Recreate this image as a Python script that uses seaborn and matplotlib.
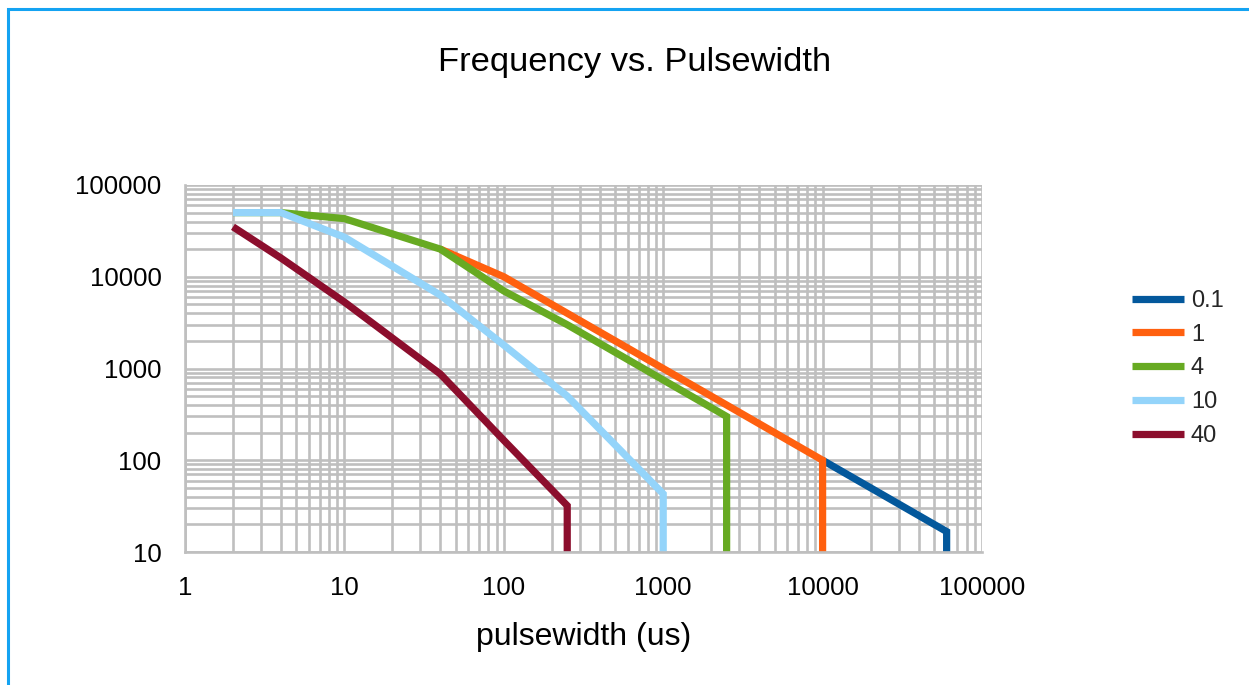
import matplotlib
matplotlib.use("Agg")
import matplotlib.pyplot as plt
import matplotlib.ticker as mticker
from matplotlib.patches import Rectangle
import seaborn as sns
import pandas as pd

sns.set_theme(style="white")
plt.rcParams['font.family'] = ['Liberation Sans', 'DejaVu Sans']

# series: pulsewidth (us) -> frequency
series_names = ['0.1', '1', '4', '10', '40']

pw_01 = [10000, 60000, 60000]
freq_01 = [100, 16.7, 10]

pw_1 = [40, 100, 250, 1000, 2500, 4000, 10000, 10000]
freq_1 = [20000, 10000, 4000, 1000, 400, 250, 100, 10]

pw_4 = [2, 4, 10, 40, 100, 250, 1000, 2500, 2500]
freq_4 = [50000, 50000, 43000, 20000, 7000, 3000, 750, 300, 10]

pw_10 = [2, 4, 10, 40, 100, 250, 1000, 1000]
freq_10 = [50000, 50000, 27000, 6300, 1800, 500, 43, 10]

pw_40 = [2, 4, 10, 40, 100, 250, 250]
freq_40 = [35000, 16000, 5300, 870, 165, 32, 10]

colors = ['#03589C', '#FF600F', '#67AA22', '#94D4FA', '#8C0E2D']

x_ticks = [1, 10, 100, 1000, 10000, 100000]
y_ticks = [10, 100, 1000, 10000, 100000]

pws = [pw_01, pw_1, pw_4, pw_10, pw_40]
freqs = [freq_01, freq_1, freq_4, freq_10, freq_40]
rows = []
for name, xs, ys in zip(series_names, pws, freqs):
    for i, (x, y) in enumerate(zip(xs, ys)):
        rows.append({'series': name, 'order': i, 'pulsewidth': x, 'frequency': y})
df = pd.DataFrame(rows)

fig = plt.figure(figsize=(12.49, 6.85), dpi=100)
ax = fig.add_axes([185 / 1249, 1 - 552 / 685, 797 / 1249, 367 / 685])

sns.lineplot(data=df, x='pulsewidth', y='frequency', hue='series',
             hue_order=series_names, palette=dict(zip(series_names, colors)),
             sort=False, estimator=None, units='series', lw=5.2,
             solid_capstyle='butt', solid_joinstyle='miter', ax=ax)

ax.set_xscale('log')
ax.set_yscale('log')
ax.set_xlim(1, 100000)
ax.set_ylim(10, 100000)
ax.set_xticks(x_ticks)
ax.set_yticks(y_ticks)
ax.xaxis.set_major_formatter(mticker.FuncFormatter(lambda v, p: str(int(round(v)))))
ax.yaxis.set_major_formatter(mticker.FuncFormatter(lambda v, p: str(int(round(v)))))
ax.xaxis.set_minor_formatter(mticker.NullFormatter())
ax.yaxis.set_minor_formatter(mticker.NullFormatter())

grid_c = '#BFBFBF'
ax.set_axisbelow(True)
ax.grid(which='both', color=grid_c, lw=1.9)
for s in ['top', 'right']:
    ax.spines[s].set_visible(False)
for s in ['left', 'bottom']:
    ax.spines[s].set_color(grid_c)
    ax.spines[s].set_linewidth(1.9)
ax.tick_params(which='major', direction='out', length=5, width=1.9, color=grid_c,
               labelsize=18.5, labelcolor='black', pad=12)
ax.tick_params(which='minor', length=0)

ax.set_ylabel('')
ax.set_xlabel('pulsewidth (us)', fontsize=23, color='black', va='center')
ax.xaxis.set_label_coords(0.5, -0.232)

fig.suptitle('Frequency vs. Pulsewidth', x=0.508, y=1 - 63 / 685, va='center',
             fontsize=24.8, color='black')

sns.move_legend(ax, 'center left', bbox_to_anchor=(1.188, 0.50), title=None,
                frameon=False, fontsize=17, handlelength=2.2, handletextpad=0.3,
                labelspacing=0.5, borderpad=0, borderaxespad=0)

fig.patches.append(Rectangle((8 / 1249, -0.5), 2, 1 - 9.5 / 685 + 0.5,
                             transform=fig.transFigure, fill=False,
                             edgecolor='#14A3F2', lw=2.2))

fig.savefig('out.png', dpi=100)
